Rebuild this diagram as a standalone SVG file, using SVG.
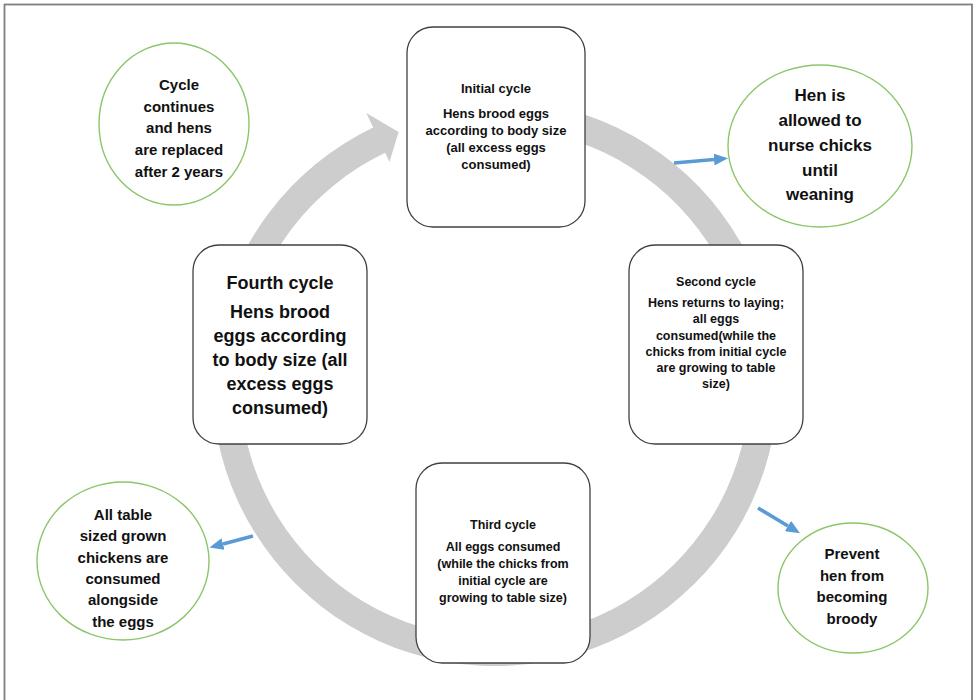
<svg xmlns="http://www.w3.org/2000/svg" width="978" height="700" viewBox="0 0 978 700">
<style>
.frame{fill:#fff;stroke:#7f7f7f;stroke-width:1.8}
.box{fill:#fff;stroke:#404040;stroke-width:1.3}
.circ{fill:#fff;stroke:#8cc66a;stroke-width:1.4}
.ring{fill:#cdcdcd;stroke:none}
.blue{stroke:#5b9bd5;stroke-width:3.5;fill:none;marker-end:url(#ah)}
text{font-family:"Liberation Sans",Arial,sans-serif;font-weight:bold;fill:#111;text-anchor:middle}
.s13{font-size:13px}.s125{font-size:12.5px}.s18{font-size:18px}.s15{font-size:15px}.s17{font-size:17px}
</style>
<defs>
<marker id="ah" markerWidth="14" markerHeight="12" refX="0" refY="6" orient="auto" markerUnits="userSpaceOnUse" viewBox="0 0 14 12">
<path d="M0,0 L14,6 L0,12 Z" fill="#5b9bd5"/>
</marker>
</defs>
<rect class="frame" x="4.5" y="4.5" width="967.5" height="700"/>
<g id="connectors">
<path id="cycle-arrow" class="ring" d="M519.7,101.1 A283,283 0 1 1 373.2,127.6 L366.3,113.1 L398.6,131.9 L389.5,161.9 L385.2,152.8 A255,255 0 1 0 517.2,129 Z"/>
<line class="blue" x1="674" y1="163" x2="714" y2="159.5"/>
<line class="blue" x1="253" y1="536" x2="223" y2="544"/>
<line class="blue" x1="758" y1="508" x2="788" y2="526"/>
</g>
<g id="initial-cycle">
<rect class="box" x="407" y="27" width="178" height="200" rx="26"/>
<text class="s13"><tspan x="496" y="92.5">Initial cycle</tspan><tspan x="496" y="117.5">Hens brood eggs</tspan><tspan x="496" y="134.5">according to body size</tspan><tspan x="496" y="151.5">(all excess eggs</tspan><tspan x="496" y="168.5">consumed)</tspan></text>
</g>
<g id="second-cycle">
<rect class="box" x="629" y="245" width="174" height="199" rx="26"/>
<text class="s125"><tspan x="716" y="285.5">Second cycle</tspan><tspan x="716" y="307">Hens returns to laying;</tspan><tspan x="716" y="323">all eggs</tspan><tspan x="716" y="340">consumed(while the</tspan><tspan x="716" y="356">chicks from initial cycle</tspan><tspan x="716" y="372">are growing to table</tspan><tspan x="716" y="388">size)</tspan></text>
</g>
<g id="third-cycle">
<rect class="box" x="416" y="463" width="174" height="200" rx="26"/>
<text class="s125"><tspan x="503" y="529">Third cycle</tspan><tspan x="503" y="551">All eggs consumed</tspan><tspan x="503" y="568">(while the chicks from</tspan><tspan x="503" y="585">initial cycle are</tspan><tspan x="503" y="602">growing to table size)</tspan></text>
</g>
<g id="fourth-cycle">
<rect class="box" x="193" y="245" width="174" height="199" rx="26"/>
<text class="s18"><tspan x="280" y="289">Fourth cycle</tspan><tspan x="280" y="318">Hens brood</tspan><tspan x="280" y="342">eggs according</tspan><tspan x="280" y="366">to body size (all</tspan><tspan x="280" y="390">excess eggs</tspan><tspan x="280" y="414">consumed)</tspan></text>
</g>
<g id="cycle-continues">
<ellipse class="circ" cx="174" cy="124" rx="75" ry="81"/>
<text class="s15"><tspan x="179" y="90">Cycle</tspan><tspan x="179" y="111.7">continues</tspan><tspan x="179" y="133.3">and hens</tspan><tspan x="179" y="155">are replaced</tspan><tspan x="179" y="176.7">after 2 years</tspan></text>
</g>
<g id="nurse-chicks">
<ellipse class="circ" cx="820" cy="146" rx="92" ry="81"/>
<text class="s17"><tspan x="820" y="100.7">Hen is</tspan><tspan x="820" y="125.7">allowed to</tspan><tspan x="820" y="150.7">nurse chicks</tspan><tspan x="820" y="175.5">until</tspan><tspan x="820" y="200">weaning</tspan></text>
</g>
<g id="table-chickens">
<ellipse class="circ" cx="123" cy="561" rx="86" ry="79"/>
<text class="s15"><tspan x="123" y="520">All table</tspan><tspan x="123" y="541.3">sized grown</tspan><tspan x="123" y="562.6">chickens are</tspan><tspan x="123" y="583.9">consumed</tspan><tspan x="123" y="605.2">alongside</tspan><tspan x="123" y="626.5">the eggs</tspan></text>
</g>
<g id="prevent-broody">
<ellipse class="circ" cx="853" cy="588" rx="75" ry="65"/>
<text class="s15"><tspan x="852" y="559.3">Prevent</tspan><tspan x="852" y="581">hen from</tspan><tspan x="852" y="602.3">becoming</tspan><tspan x="852" y="623.6">broody</tspan></text>
</g>
</svg>
